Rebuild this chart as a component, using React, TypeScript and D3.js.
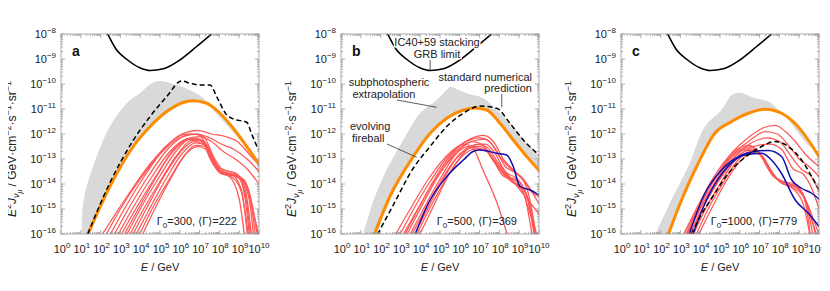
import React, { useEffect, useRef } from "react";
import * as d3 from "d3";

// every point is [log10(E / GeV), log10(E^2 J)]
type Pt = [number, number];

const xTickExps = [0, 1, 2, 3, 4, 5, 6, 7, 8, 9, 10];
const yTickExps = [-16, -15, -14, -13, -12, -11, -10, -9, -8];

const panelLetters = ["a", "b", "c"];
const gamma0 = [300, 500, 1000];
const gammaMean = [222, 369, 779];

// IC40+59 stacking limit (same in all three panels)
const limitCurve: Pt[] = [
  [2.3, -7.9], [2.81, -8.64], [3.3, -9.0], [3.98, -9.35], [4.5, -9.46],
  [5.17, -9.39], [6.0, -9.04], [6.85, -8.5], [7.6, -8.0], [7.8, -7.85],
];

// ---- panel a : Gamma0 = 300
const aGrayTop: Pt[] = [
  [1.13, -16.3], [1.13, -14.7], [1.8, -12.9], [2.47, -11.7], [3.32, -10.77], [3.99, -10.37],
  [4.58, -9.97], [5.0, -9.88], [5.84, -10.04], [6.5, -10.24], [7.19, -10.57], [7.7, -11.04],
  [8.37, -11.64], [9.04, -12.24], [9.4, -12.55],
];
const aOrange: Pt[] = [
  [1.2, -16.3], [2.47, -14.1], [3.65, -12.5], [4.5, -11.7], [5.34, -11.1], [6.35, -10.7],
  [6.67, -10.67], [7.36, -10.77], [8.03, -11.17], [8.7, -11.77], [9.38, -12.5], [10.0, -13.2],
];
const aDashed: Pt[] = [
  [1.2, -16.3], [2.47, -13.95], [3.65, -12.25], [4.5, -11.3], [5.34, -10.5], [6.09, -9.88],
  [6.52, -9.97], [7.02, -10.04], [7.53, -10.04], [7.86, -10.5], [8.37, -11.24], [8.7, -11.4],
  [9.38, -11.53], [9.63, -12.0], [9.97, -12.64],
];
const aRed: Pt[][] = [
  [[1.85, -16.3], [2.5, -15.5], [3.5, -14.3], [4.5, -13.2], [5.5, -12.35], [6.3, -12.0], [6.9, -12.0], [7.4, -12.5], [7.9, -13.3], [8.5, -13.5], [9.0, -13.7], [9.3, -14.6], [9.55, -16.3]],
  [[2.1, -16.3], [3.0, -15.0], [4.0, -13.8], [5.0, -12.8], [6.0, -12.15], [6.6, -12.0], [7.2, -12.1], [7.7, -12.9], [8.2, -13.45], [8.8, -13.55], [9.3, -14.2], [9.65, -16.3]],
  [[2.3, -16.3], [3.2, -15.0], [4.2, -13.7], [5.2, -12.6], [6.1, -12.0], [6.9, -11.85], [7.6, -12.0], [8.3, -12.1], [8.9, -12.3], [9.5, -12.8], [10.0, -13.25]],
  [[2.5, -16.3], [3.4, -15.0], [4.4, -13.7], [5.4, -12.6], [6.2, -12.1], [6.9, -12.0], [7.5, -12.15], [8.1, -12.4], [8.7, -12.6], [9.4, -13.0], [10.0, -13.5]],
  [[2.7, -16.3], [3.6, -15.0], [4.6, -13.7], [5.5, -12.7], [6.3, -12.2], [7.0, -12.1], [7.6, -12.3], [8.2, -12.7], [8.8, -13.0], [9.4, -13.4], [10.0, -14.0]],
  [[2.85, -16.3], [3.7, -15.1], [4.7, -13.8], [5.6, -12.75], [6.3, -12.25], [6.8, -12.15], [7.2, -12.4], [7.6, -13.1], [8.0, -13.5], [8.6, -13.6], [9.1, -14.2], [9.45, -16.3]],
  [[3.0, -16.3], [3.9, -15.0], [4.9, -13.6], [5.7, -12.6], [6.4, -12.2], [7.0, -12.2], [7.4, -12.6], [7.8, -13.3], [8.3, -13.55], [8.9, -13.7], [9.3, -14.4], [9.6, -16.3]],
  [[3.15, -16.3], [4.0, -15.0], [4.9, -13.8], [5.8, -12.7], [6.5, -12.2], [7.1, -12.25], [7.5, -12.7], [7.9, -13.4], [8.4, -13.6], [9.0, -13.7], [9.5, -14.6], [9.75, -16.3]],
  [[3.3, -16.3], [4.1, -15.1], [5.0, -13.9], [5.9, -12.8], [6.6, -12.25], [7.2, -12.3], [7.6, -12.8], [8.0, -13.45], [8.6, -13.6], [9.1, -13.75], [9.6, -14.8], [9.85, -16.3]],
  [[3.45, -16.3], [4.3, -15.0], [5.2, -13.7], [6.0, -12.75], [6.7, -12.3], [7.2, -12.4], [7.6, -12.9], [8.1, -13.5], [8.7, -13.65], [9.2, -13.8], [9.7, -15.0], [9.95, -16.3]],
  [[3.6, -16.3], [4.4, -15.1], [5.3, -13.8], [6.1, -12.8], [6.8, -12.35], [7.3, -12.45], [7.7, -13.0], [8.2, -13.6], [8.8, -13.7], [9.3, -14.0], [9.8, -15.4], [10.05, -16.3]],
  [[3.8, -16.3], [4.6, -15.0], [5.4, -13.9], [6.2, -12.9], [6.8, -12.45], [7.3, -12.5], [7.7, -13.1], [8.1, -13.55], [8.6, -13.7], [9.1, -14.3], [9.5, -16.3]],
  [[3.95, -16.3], [4.8, -14.9], [5.6, -13.7], [6.3, -12.8], [6.9, -12.5], [7.3, -12.6], [7.7, -13.2], [8.0, -13.55], [8.5, -13.7], [9.0, -14.6], [9.3, -16.3]],
];
const aBlue: Pt[][] = [];

// ---- panel b : Gamma0 = 500
const bGrayTop: Pt[] = [
  [1.13, -16.3], [1.38, -15.3], [2.14, -13.7], [3.15, -12.24], [3.99, -11.17], [4.83, -10.64],
  [5.42, -10.17], [5.5, -10.12], [6.35, -10.37], [7.19, -10.57], [7.86, -11.04], [8.7, -11.7],
  [9.38, -12.37], [10.05, -12.95],
];
const bOrange: Pt[] = [
  [1.55, -16.3], [2.47, -14.5], [3.65, -12.9], [4.5, -11.97], [5.34, -11.37], [6.18, -11.04],
  [6.77, -10.96], [7.36, -11.04], [8.03, -11.57], [8.7, -12.24], [9.38, -12.9], [10.05, -13.5],
];
const bDashed: Pt[] = [
  [1.65, -16.3], [2.6, -14.9], [3.65, -13.37], [4.5, -12.5], [5.34, -11.7], [6.18, -11.17],
  [7.02, -10.88], [7.86, -10.97], [8.53, -11.57], [9.21, -12.24], [10.0, -12.84],
];
const bBlue: Pt[][] = [
  [[3.6, -16.3], [4.5, -14.64], [5.34, -13.7], [6.18, -13.04], [6.67, -12.7], [7.02, -12.64], [7.86, -12.77], [8.37, -12.84], [8.7, -13.3], [9.04, -14.1], [9.55, -14.24], [10.0, -14.44]],
];
const bRed: Pt[][] = [
  [[2.55, -16.3], [3.5, -15.0], [4.5, -13.7], [5.5, -12.75], [6.2, -12.4], [6.6, -12.5], [7.2, -13.5], [7.9, -14.8], [8.5, -16.3]],
  [[2.8, -16.3], [3.6, -15.1], [4.5, -13.9], [5.4, -12.9], [6.2, -12.35], [7.0, -12.15], [7.5, -12.3], [8.0, -12.9], [8.6, -13.4], [9.2, -13.8], [9.6, -14.3], [10.0, -14.5]],
  [[3.05, -16.3], [3.9, -15.0], [4.8, -13.7], [5.7, -12.7], [6.5, -12.2], [7.2, -12.05], [7.7, -12.3], [8.2, -13.0], [8.8, -13.5], [9.3, -13.9], [10.0, -14.8]],
  [[3.3, -16.3], [4.1, -15.1], [5.0, -13.8], [5.8, -12.8], [6.6, -12.3], [7.3, -12.2], [7.8, -12.6], [8.3, -13.3], [8.9, -13.6], [9.4, -14.2], [9.9, -16.3]],
  [[3.55, -16.3], [4.3, -15.1], [5.1, -13.9], [6.0, -12.8], [6.7, -12.45], [7.3, -12.4], [7.8, -12.8], [8.3, -13.5], [8.9, -13.8], [9.4, -14.5], [9.8, -16.3]],
  [[3.8, -16.3], [4.6, -15.0], [5.4, -13.7], [6.2, -12.75], [6.9, -12.4], [7.4, -12.55], [7.9, -13.1], [8.5, -13.7], [9.0, -13.9], [9.5, -14.8], [9.85, -16.3]],
  [[3.15, -16.3], [4.0, -15.0], [4.9, -13.7], [5.8, -12.7], [6.6, -12.3], [7.1, -12.4], [7.6, -12.9], [8.1, -13.6], [8.7, -13.9], [9.2, -14.3], [9.7, -16.3]],
  [[3.4, -16.3], [4.2, -15.1], [5.1, -13.8], [5.9, -12.9], [6.6, -12.55], [7.2, -12.6], [7.8, -13.2], [8.4, -13.7], [9.0, -14.0], [9.6, -15.0], [9.9, -16.3]],
  [[3.65, -16.3], [4.4, -15.1], [5.3, -13.8], [6.1, -12.9], [6.8, -12.6], [7.4, -12.7], [8.0, -13.4], [8.6, -13.9], [9.1, -14.2], [9.6, -15.3], [10.0, -16.3]],
  [[2.95, -16.3], [3.8, -15.1], [4.7, -13.9], [5.6, -12.95], [6.4, -12.5], [7.1, -12.5], [7.6, -12.9], [8.2, -13.5], [8.8, -14.0], [9.4, -14.6], [10.0, -15.2]],
];

// ---- panel c : Gamma0 = 1000
const cGrayTop: Pt[] = [
  [1.72, -16.3], [2.39, -14.9], [3.4, -13.3], [4.24, -11.7], [5.08, -11.04], [5.59, -10.44],
  [6.01, -10.35], [6.77, -10.57], [7.44, -10.7], [7.95, -11.04], [8.45, -11.44], [8.96, -11.97],
  [9.46, -12.45], [9.7, -12.6],
];
const cOrange: Pt[] = [
  [2.25, -16.3], [3.06, -14.64], [3.9, -13.17], [4.74, -11.97], [5.59, -11.5], [6.43, -11.17],
  [7.27, -11.01], [8.11, -11.17], [8.79, -11.57], [9.46, -12.24], [10.05, -12.97],
];
const cDashed: Pt[] = [
  [3.4, -16.3], [4.0, -15.3], [4.58, -14.57], [5.42, -13.57], [6.43, -12.84], [7.1, -12.5],
  [7.78, -12.3], [8.45, -12.5], [9.12, -13.04], [9.63, -13.7], [10.0, -14.24],
];
const cBlue: Pt[][] = [
  [[3.32, -16.3], [4.24, -14.37], [5.08, -13.44], [6.1, -12.84], [6.77, -12.7], [7.44, -12.66], [8.11, -12.9], [8.62, -13.84], [9.12, -14.17], [9.63, -14.37], [10.05, -14.64]],
  [[3.5, -16.3], [4.4, -14.5], [5.4, -13.3], [6.25, -12.84], [7.1, -12.77], [7.6, -13.04], [8.1, -13.57], [8.8, -14.64], [9.46, -15.17], [10.0, -15.7]],
];
const cRed: Pt[][] = [
  [[3.0, -16.3], [3.8, -15.0], [4.7, -13.7], [5.6, -12.75], [6.5, -12.1], [7.2, -11.75], [7.8, -11.65], [8.3, -11.9], [8.8, -12.3], [9.3, -12.8], [10.0, -13.3]],
  [[3.1, -16.3], [3.9, -15.0], [4.8, -13.7], [5.7, -12.8], [6.6, -12.2], [7.3, -11.9], [7.9, -12.0], [8.5, -12.5], [9.0, -13.0], [9.5, -13.3], [10.0, -13.7]],
  [[3.2, -16.3], [4.0, -15.0], [4.9, -13.8], [5.8, -12.85], [6.6, -12.35], [7.4, -12.15], [8.0, -12.3], [8.6, -12.9], [9.1, -13.4], [9.6, -13.7], [10.0, -14.3]],
  [[3.3, -16.3], [4.1, -15.0], [5.0, -13.8], [5.9, -12.9], [6.7, -12.5], [7.5, -12.4], [8.1, -12.6], [8.7, -13.4], [9.2, -13.6], [9.7, -14.3], [10.0, -15.0]],
  [[2.95, -16.3], [3.8, -15.1], [4.6, -14.0], [5.4, -13.0], [6.0, -12.55], [6.5, -12.45], [7.0, -12.8], [7.6, -13.6], [8.2, -13.9], [8.8, -14.0], [9.3, -14.7], [9.6, -16.3]],
  [[3.15, -16.3], [3.9, -15.1], [4.7, -14.0], [5.5, -13.0], [6.1, -12.6], [6.6, -12.5], [7.1, -12.9], [7.7, -13.7], [8.3, -13.95], [8.9, -14.1], [9.4, -14.9], [9.75, -16.3]],
  [[3.35, -16.3], [4.1, -15.0], [4.9, -13.9], [5.7, -12.95], [6.3, -12.6], [6.8, -12.6], [7.3, -13.1], [7.9, -13.8], [8.5, -14.0], [9.1, -14.3], [9.6, -15.3], [9.9, -16.3]],
  [[3.5, -16.3], [4.2, -15.1], [5.0, -14.0], [5.8, -13.0], [6.4, -12.65], [6.9, -12.7], [7.4, -13.3], [8.0, -13.9], [8.6, -14.1], [9.2, -14.5], [9.7, -15.6], [10.0, -16.3]],
  [[3.65, -16.3], [4.4, -15.0], [5.2, -13.9], [5.9, -13.05], [6.5, -12.7], [7.0, -12.8], [7.5, -13.4], [8.1, -13.95], [8.7, -14.2], [9.2, -14.8], [9.6, -16.3]],
  [[3.75, -16.3], [4.5, -15.1], [5.3, -13.9], [6.0, -13.1], [6.6, -12.75], [7.1, -12.85], [7.6, -13.5], [8.2, -14.0], [8.8, -14.1], [9.3, -14.6], [9.9, -15.8], [10.05, -16.1]],
];

const grayTops = [aGrayTop, bGrayTop, cGrayTop];
const oranges = [aOrange, bOrange, cOrange];
const dasheds = [aDashed, bDashed, cDashed];
const reds = [aRed, bRed, cRed];
const blues = [aBlue, bBlue, cBlue];

const FONT = "'Liberation Sans', Arial, Helvetica, sans-serif";

type Part = { t: string; off?: number; size?: number; italic?: boolean };

function richText(sel: d3.Selection<SVGTextElement, unknown, null, undefined>, parts: Part[]) {
  let cur = 0;
  parts.forEach((p) => {
    const off = p.off ?? 0;
    const ts = sel.append("tspan").attr("dy", off - cur).text(p.t);
    if (p.size) ts.attr("font-size", p.size);
    if (p.italic) ts.attr("font-style", "italic");
    cur = off;
  });
}

function App() {
  const ref = useRef<SVGSVGElement | null>(null);

  useEffect(() => {
    const svg = d3.select(ref.current);
    svg.selectAll("*").remove();

    const W = 830, H = 291;
    const panelX = [61, 341, 621];
    const top = 34, pw = 198, ph = 200;

    svg.attr("width", W).attr("height", H).style("font-family", FONT);

    panelX.forEach((px, i) => {
      const g = svg.append("g").attr("transform", `translate(${px},${top})`);
      const x = d3.scaleLog().domain([1, 1e10]).range([0, pw]);
      const y = d3.scaleLog().domain([1e-16, 1e-8]).range([ph, 0]);

      const line = d3.line<Pt>()
        .x((d) => x(10 ** d[0]))
        .y((d) => y(10 ** d[1]))
        .curve(d3.curveMonotoneX);

      const clipId = "clip" + i;
      g.append("clipPath").attr("id", clipId)
        .append("rect").attr("width", pw).attr("height", ph);
      const plot = g.append("g").attr("clip-path", `url(#${clipId})`);

      // gray band: top edge forward, orange back
      const band = grayTops[i].concat(oranges[i].slice().reverse());
      const bandLine = d3.line<Pt>()
        .x((d) => x(10 ** d[0]))
        .y((d) => y(10 ** d[1]))
        .curve(d3.curveCatmullRomClosed.alpha(0.5));
      plot.append("path").attr("d", bandLine(band)).attr("fill", "#d9d9d9");

      plot.append("path").attr("d", line(limitCurve))
        .attr("fill", "none").attr("stroke", "#000").attr("stroke-width", 1.6);

      reds[i].forEach((r) => {
        plot.append("path").attr("d", line(r))
          .attr("fill", "none").attr("stroke", "#ff5757").attr("stroke-width", 1.25);
      });
      blues[i].forEach((b) => {
        plot.append("path").attr("d", line(b))
          .attr("fill", "none").attr("stroke", "#0f0fb0").attr("stroke-width", 1.5);
      });

      plot.append("path").attr("d", line(oranges[i]))
        .attr("fill", "none").attr("stroke", "#ff8c00").attr("stroke-width", 3);
      plot.append("path").attr("d", line(dasheds[i]))
        .attr("fill", "none").attr("stroke", "#000").attr("stroke-width", 1.5)
        .attr("stroke-dasharray", "5,3");

      // frame and inward ticks
      const fr = g.append("g").attr("stroke", "#999").attr("stroke-width", 0.8);
      fr.append("rect").attr("width", pw).attr("height", ph).attr("fill", "none");
      xTickExps.forEach((k) => {
        const xs = [{ v: 10 ** k, len: 4 }];
        if (k < 10) for (let m = 2; m <= 9; m++) xs.push({ v: m * 10 ** k, len: 2 });
        xs.forEach((t) => {
          const xx = x(t.v);
          fr.append("line").attr("x1", xx).attr("x2", xx).attr("y1", ph).attr("y2", ph - t.len);
          fr.append("line").attr("x1", xx).attr("x2", xx).attr("y1", 0).attr("y2", t.len);
        });
      });
      yTickExps.forEach((k) => {
        const ys = [{ v: 10 ** k, len: 4 }];
        if (k < -8) for (let m = 2; m <= 9; m++) ys.push({ v: m * 10 ** k, len: 2 });
        ys.forEach((t) => {
          const yy = y(t.v);
          fr.append("line").attr("y1", yy).attr("y2", yy).attr("x1", 0).attr("x2", t.len);
          fr.append("line").attr("y1", yy).attr("y2", yy).attr("x1", pw).attr("x2", pw - t.len);
        });
      });

      // tick labels
      yTickExps.forEach((k) => {
        const t = g.append("text").attr("x", -5).attr("y", y(10 ** k) + 4)
          .attr("text-anchor", "end").attr("font-size", 11).attr("fill", "#222");
        richText(t, [{ t: "10" }, { t: "\u2212" + Math.abs(k), off: -5, size: 8 }]);
      });
      xTickExps.forEach((k) => {
        const t = g.append("text").attr("x", x(10 ** k) + (k === 10 ? 0 : 1)).attr("y", ph + 19)
          .attr("text-anchor", "middle").attr("font-size", 11).attr("fill", "#222");
        richText(t, [{ t: "10" }, { t: String(k), off: -5, size: 8 }]);
      });

      // axis titles
      const xt = g.append("text").attr("x", pw / 2).attr("y", ph + 37)
        .attr("text-anchor", "middle").attr("font-size", 11).attr("fill", "#222");
      richText(xt, [{ t: "E", italic: true }, { t: " / GeV" }]);

      const yt = g.append("text")
        .attr("transform", `translate(-45,${ph / 2 + 15}) rotate(-90)`)
        .attr("text-anchor", "middle").attr("font-size", 12).attr("fill", "#222");
      richText(yt, [
        { t: "E", italic: true },
        { t: "2", off: -5, size: 9 },
        { t: "J", italic: true, off: 0 },
        { t: "\u03bd", off: 3, size: 9, italic: true },
        { t: "\u03bc", off: 5.5, size: 7, italic: true },
        { t: " / GeV\u00b7cm", off: 0 },
        { t: "\u22122", off: -5, size: 9 },
        { t: "\u00b7s", off: 0 },
        { t: "\u22121", off: -5, size: 9 },
        { t: "\u00b7sr", off: 0 },
        { t: "\u22121", off: -5, size: 9 },
      ]);

      // panel letter
      g.append("text").attr("x", 11).attr("y", 22).attr("font-size", 14)
        .attr("font-weight", "bold").attr("fill", "#111").text(panelLetters[i]);

      // Gamma label
      const gl = g.append("text").attr("x", pw - 22).attr("y", ph - 9)
        .attr("text-anchor", "end").attr("font-size", 11).attr("fill", "#222");
      richText(gl, [
        { t: "\u0393" },
        { t: "0", off: 3, size: 8 },
        { t: "=" + gamma0[i] + ", \u27e8\u0393\u27e9=" + gammaMean[i], off: 0 },
      ]);

      // annotations in panel b
      if (i === 1) {
        const ann = g.append("g").attr("font-size", 11).attr("fill", "#222");
        const halo = (t: d3.Selection<SVGTextElement, unknown, null, undefined>) =>
          t.attr("stroke", "#fff").attr("stroke-width", 3).attr("paint-order", "stroke");
        halo(ann.append("text").attr("x", 96).attr("y", 12).attr("text-anchor", "middle").text("IC40+59 stacking"));
        halo(ann.append("text").attr("x", 96).attr("y", 24).attr("text-anchor", "middle").text("GRB limit"));
        ann.append("text").attr("x", 191).attr("y", 47).attr("text-anchor", "end").text("standard numerical");
        ann.append("text").attr("x", 191).attr("y", 58).attr("text-anchor", "end").text("prediction");
        ann.append("text").attr("x", 48).attr("y", 52).attr("text-anchor", "middle").text("subphotospheric");
        ann.append("text").attr("x", 43).attr("y", 64).attr("text-anchor", "middle").text("extrapolation");
        ann.append("text").attr("x", 9).attr("y", 96).text("evolving");
        ann.append("text").attr("x", 11).attr("y", 108).text("fireball");

        const lead = g.append("g").attr("stroke", "#333").attr("stroke-width", 0.8);
        lead.append("line").attr("x1", x(10 ** 4.5)).attr("x2", x(10 ** 4.5))
          .attr("y1", 26).attr("y2", y(10 ** -9.46));
        lead.append("line").attr("x1", x(10 ** 8.12)).attr("x2", x(10 ** 8.12))
          .attr("y1", 60).attr("y2", y(10 ** -10.93));
        lead.append("line").attr("x1", 56).attr("y1", 66)
          .attr("x2", x(10 ** 4.83)).attr("y2", y(10 ** -10.93));
        lead.append("line").attr("x1", 46).attr("y1", 110)
          .attr("x2", x(10 ** 3.82)).attr("y2", y(10 ** -12.93));
      }
    });
  }, []);

  return (
    <div>
      <svg ref={ref} style={{ display: "block", margin: "-8px" }} />
    </div>
  );
}

export default App;
